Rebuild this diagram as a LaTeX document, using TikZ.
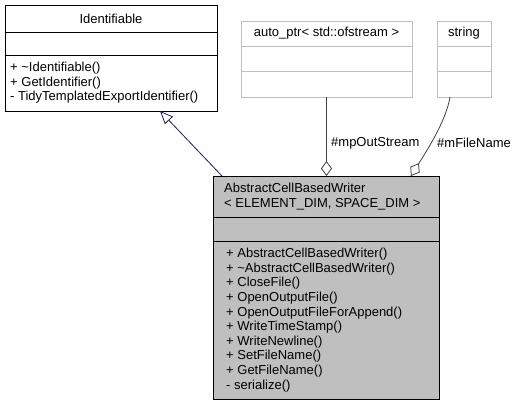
\documentclass[tikz,border=0pt]{standalone}
\usepackage{fontspec}
\setmainfont{Liberation Sans}
\usetikzlibrary{arrows.meta}
\definecolor{boxgray}{HTML}{BFBFBF}
\definecolor{edgegray}{HTML}{404040}
\definecolor{navyline}{HTML}{191970}
\tikzset{
  umlbox/.style={draw=black, fill=white, line width=0.8pt, inner sep=0pt, outer sep=0pt, anchor=north west},
  extbox/.style={draw=boxgray, fill=white, line width=0.8pt, inner sep=0pt, outer sep=0pt, anchor=north west},
  mainbox/.style={draw=black, fill=boxgray, line width=0.8pt, inner sep=0pt, outer sep=0pt, anchor=north west},
  txt/.style={inner sep=0pt, font=\fontsize{13}{14.6}\selectfont, align=left},
  sepline/.style={line width=0.8pt},
  genline/.style={draw=navyline, line width=0.8pt, -{Triangle[open, length=13pt, width=11pt, fill=white]}},
  aggline/.style={draw=edgegray, line width=0.8pt, {Diamond[open, length=15pt, width=11pt, fill=white]}-},
}
\begin{document}
\begin{tikzpicture}[x=1pt,y=-1pt]
\useasboundingbox (0,0) rectangle (517,405);
% Identifiable
\node[umlbox, minimum width=212pt, minimum height=106pt] (ident) at (5,5) {};
\draw[sepline] (5,32) -- (217,32);
\draw[sepline] (5,55) -- (217,55);
\node[txt] (identtitle) at (111,18.5) {Identifiable};
\node[txt, anchor=west] (identops) at (10,83) {+ \textasciitilde Identifiable()\\+ GetIdentifier()\\- TidyTemplatedExportIdentifier()};
% auto_ptr
\node[extbox, minimum width=171pt, minimum height=76pt] (autoptr) at (241,21) {};
\draw[sepline, draw=boxgray] (241,46) -- (412,46);
\draw[sepline, draw=boxgray] (241,71) -- (412,71);
\node[txt] (autoptrtitle) at (326.5,33.5) {auto\_ptr< std::ofstream >};
% string
\node[extbox, minimum width=54pt, minimum height=76pt] (str) at (437,21) {};
\draw[sepline, draw=boxgray] (437,46) -- (491,46);
\draw[sepline, draw=boxgray] (437,71) -- (491,71);
\node[txt] (strtitle) at (464,33.5) {string};
% main
\node[mainbox, minimum width=226pt, minimum height=223pt] (main) at (213,176) {};
\draw[sepline] (213,217) -- (439,217);
\draw[sepline] (213,241) -- (439,241);
\node[txt, anchor=west] (maintitle) at (224,196.5) {AbstractCellBasedWriter\\< ELEMENT\_DIM, SPACE\_DIM >};
\node[txt, anchor=west] (mainops) at (226,320) {+ AbstractCellBasedWriter()\\+ \textasciitilde AbstractCellBasedWriter()\\+ CloseFile()\\+ OpenOutputFile()\\+ OpenOutputFileForAppend()\\+ WriteTimeStamp()\\+ WriteNewline()\\+ SetFileName()\\+ GetFileName()\\- serialize()};
% attach points
\coordinate (genstart) at (222,176);
\coordinate (gentip) at (160,111);
\coordinate (aggA) at (326.5,176);
\coordinate (aggB) at (411,176);
\coordinate (strend) at (450,97);
% connectors
\draw[genline] (genstart) -- (gentip);
\draw[aggline] (aggA) -- (autoptr.south);
\draw[aggline] (aggB) .. controls (424,155) and (446,122) .. (strend);
% labels
\node[txt, anchor=west] (lblout) at (331,143) {\#mpOutStream};
\node[txt, anchor=west] (lblfile) at (437,143) {\#mFileName};
\end{tikzpicture}
\end{document}
